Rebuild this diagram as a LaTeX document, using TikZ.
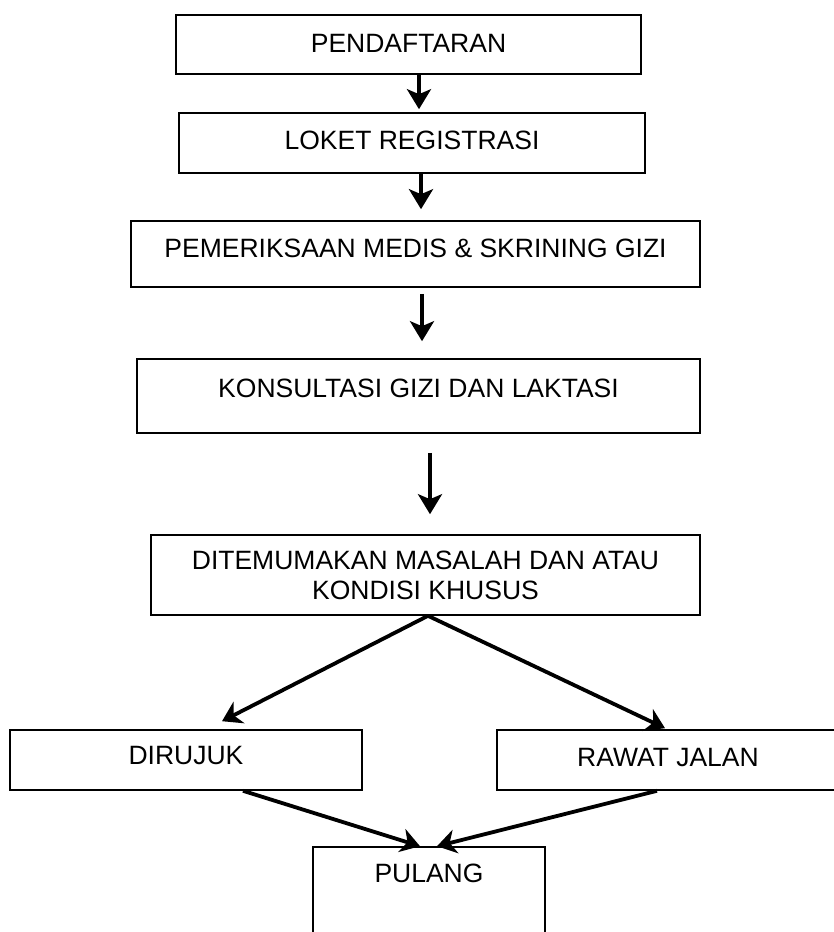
\documentclass[tikz,border=0pt]{standalone}
\usepackage{fontspec}
\setmainfont{Liberation Sans}
\usetikzlibrary{arrows.meta}
\tikzset{stage/.style = {draw, line width=1.6pt, inner sep=0pt,
                         font=\fontsize{26.5}{30}\selectfont, align=center},
         lift/.style = {text height=19pt, text depth=#1},
         flow/.style = {line width=4pt, -{Stealth[length=20pt, width=24pt, inset=5pt]}},
         branch/.style = {line width=3.8pt, -{Stealth[length=19pt, width=24pt, inset=6pt]}}}

\begin{document}
\begin{tikzpicture}[x=1pt, y=-1pt]
    \useasboundingbox (0, 0) rectangle (833, 932);

    \node [stage, lift=3pt, minimum width=465pt, minimum height=59pt] (daftar) at (408.5, 44.5) {PENDAFTARAN};
    \node [stage, lift=6pt, minimum width=466pt, minimum height=60pt] (loket) at (412, 143) {LOKET REGISTRASI};
    \node [stage, lift=12pt, minimum width=569pt, minimum height=66pt] (periksa) at (415.5, 254) {PEMERIKSAAN MEDIS \& SKRINING GIZI};
    \node [stage, lift=16pt, minimum width=563pt, minimum height=74pt] (konsul) at (418.5, 396) {KONSULTASI GIZI DAN LAKTASI};
    \node [stage, minimum width=549pt, minimum height=80pt] (masalah) at (425.5, 575) {DITEMUMAKAN MASALAH DAN ATAU\\KONDISI KHUSUS};
    \node [stage, lift=10pt, minimum width=352pt, minimum height=60pt] (rujuk) at (186, 760) {DIRUJUK};
    \node [stage, lift=6pt, minimum width=342pt, minimum height=60pt] (rawat) at (668, 760) {RAWAT JALAN};
    \node [stage, lift=58pt, minimum width=232pt, minimum height=110pt] (pulang) at (429, 902) {PULANG};

    \draw [flow, shorten >=3pt] ([xshift=10.5pt]daftar.south) -- ([xshift=7pt]loket.north);
    \draw [flow, shorten >=11pt] ([xshift=9pt]loket.south) -- ([xshift=5.5pt]periksa.north);
    \draw [flow, shorten <=6pt, shorten >=17pt] ([xshift=6.5pt]periksa.south) -- ([xshift=3.5pt]konsul.north);
    \draw [flow, shorten <=19pt, shorten >=20pt] ([xshift=11.5pt]konsul.south) -- ([xshift=4.5pt]masalah.north);

    \draw [branch] ([xshift=2.5pt]masalah.south) -- ([xshift=36pt, yshift=8pt]rujuk.north);
    \draw [branch] ([xshift=2.5pt]masalah.south) -- ([xshift=-3pt, yshift=1pt]rawat.north);
    \draw [branch] ([xshift=57pt]rujuk.south) -- ([xshift=-9pt]pulang.north);
    \draw [branch] ([xshift=-11pt]rawat.south) -- ([xshift=8pt]pulang.north);
\end{tikzpicture}
\end{document}
